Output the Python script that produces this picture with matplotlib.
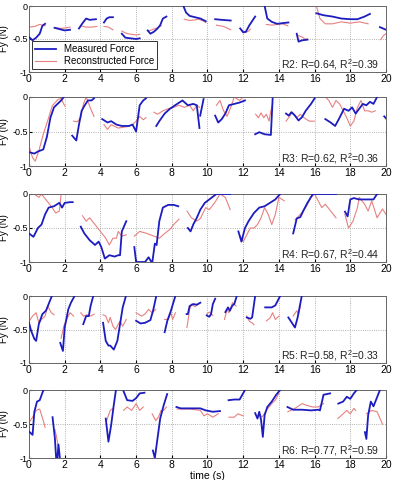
import matplotlib
matplotlib.use('Agg')
import matplotlib.pyplot as plt

plt.rcParams['font.family'] = ['Liberation Sans', 'DejaVu Sans']
plt.rcParams['mathtext.fontset'] = 'custom'
plt.rcParams['mathtext.rm'] = 'Liberation Sans'

# each segment: list of (time, force) points
r2_meas = [
    [(0, -0.47), (0.2, -0.52), (0.4, -0.48), (0.6, -0.42), (0.75, -0.30), (0.9, -0.27)],
    [(1.43, -0.33), (1.7, -0.35), (2.0, -0.37), (2.3, -0.36)],
    [(2.8, -0.34), (3.0, -0.26), (3.2, -0.19), (3.4, -0.21), (3.75, -0.20)],
    [(4.2, -0.25), (4.35, -0.19), (4.5, -0.17), (4.7, -0.17)],
    [(5.2, -0.42), (5.4, -0.48), (5.7, -0.49), (6.0, -0.50), (6.2, -0.49)],
    [(6.65, -0.37), (6.8, -0.42), (7.0, -0.39), (7.2, -0.34), (7.35, -0.29), (7.5, -0.19), (7.7, -0.16)],
    [(8.65, 0.0), (8.8, -0.10), (9.0, -0.15), (9.3, -0.17), (9.6, -0.19), (9.9, -0.23)],
    [(10.43, -0.20), (10.8, -0.21), (11.3, -0.22)],
    [(11.83, -0.34), (12.0, -0.40), (12.15, -0.39), (12.35, -0.29), (12.67, -0.16)],
    [(13.2, 0.0), (13.35, -0.19), (13.6, -0.24), (13.9, -0.27), (14.2, -0.26), (14.53, -0.25)],
    [(15.0, -0.42), (15.1, -0.54), (15.3, -0.52), (15.6, -0.51)],
    [(16.1, -0.11), (16.5, -0.14), (17.0, -0.16), (17.5, -0.19), (18.0, -0.20), (18.4, -0.20),
     (18.8, -0.16), (19.1, -0.12)],
    [(19.66, -0.32), (20.0, -0.36)],
]
r2_rec = [
    [(0, -0.32), (0.3, -0.31), (0.6, -0.28), (0.9, -0.30)],
    [(1.5, -0.33), (1.8, -0.34), (2.1, -0.33), (2.3, -0.32)],
    [(2.9, -0.30), (3.2, -0.32), (3.5, -0.32), (3.8, -0.31)],
    [(4.2, -0.31), (4.45, -0.32), (4.7, -0.36)],
    [(5.2, -0.38), (5.5, -0.42), (5.8, -0.43), (6.0, -0.44), (6.2, -0.43)],
    [(6.65, -0.38), (6.8, -0.37), (7.0, -0.35), (7.2, -0.33), (7.4, -0.30)],
    [(8.7, -0.20), (9.0, -0.22), (9.3, -0.21), (9.5, -0.20), (9.7, -0.22), (9.9, -0.25)],
    [(10.5, -0.29), (10.9, -0.31), (11.3, -0.36)],
    [(11.9, -0.36), (12.0, -0.38), (12.15, -0.40), (12.3, -0.38), (12.4, -0.35)],
    [(13.3, -0.28), (13.6, -0.29), (13.9, -0.28), (14.2, -0.27), (14.5, -0.30)],
    [(15.1, -0.45), (15.3, -0.47), (15.45, -0.50), (15.6, -0.50)],
    [(16.1, 0.0), (16.3, -0.19), (16.6, -0.27), (17.0, -0.27), (17.5, -0.24), (18.0, -0.26),
     (18.5, -0.24), (19.0, -0.27)],
    [(19.7, -0.51), (19.85, -0.45), (20.0, -0.42)],
]

r3_meas = [
    [(0, -0.80), (0.3, -0.82), (0.5, -0.79), (0.8, -0.76), (1.0, -0.58), (1.2, -0.30), (1.4, -0.15),
     (1.6, -0.10), (1.8, -0.05), (1.95, 0.0)],
    [(2.42, -0.56), (2.65, -0.63), (2.8, -0.40), (2.95, -0.20), (3.1, -0.13), (3.3, -0.05),
     (3.5, -0.05), (3.64, -0.02)],
    [(4.1, -0.32), (4.4, -0.37), (4.6, -0.35), (4.9, -0.40), (5.2, -0.42), (5.6, -0.42), (5.8, -0.40),
     (6.0, -0.50), (6.2, -0.12), (6.4, -0.05), (6.55, -0.02)],
    [(7.13, -0.42), (7.3, -0.35), (7.6, -0.24), (7.9, -0.17), (8.3, -0.10), (8.6, -0.05), (8.9, -0.12),
     (9.2, -0.10), (9.4, -0.12), (9.55, -0.45)],
    [(9.59, -0.27), (9.78, -0.03)],
    [(10.43, -0.27), (10.6, -0.37), (10.8, -0.32), (11.0, -0.24), (11.2, -0.12), (11.5, -0.10),
     (11.8, -0.08), (12.1, -0.05)],
    [(12.67, -0.54), (12.9, -0.51), (13.2, -0.54), (13.55, -0.55), (13.65, -0.02)],
    [(14.4, -0.24), (14.55, -0.27), (14.7, -0.22), (14.9, -0.27), (15.1, -0.34), (15.3, -0.29),
     (15.5, -0.20), (15.8, -0.10), (16.0, -0.02)],
    [(16.6, -0.32), (16.9, -0.37), (17.15, -0.42), (17.4, -0.30), (17.65, -0.17), (17.9, -0.20),
     (18.1, -0.15), (18.3, -0.24), (18.5, -0.17), (18.7, -0.10), (18.9, -0.12), (19.1, -0.07),
     (19.3, -0.10), (19.5, 0.0)],
    [(19.9, -0.28), (20.0, -0.31)],
]
r3_rec = [
    [(0, -0.71), (0.2, -0.88), (0.35, -0.93), (0.55, -0.78), (0.8, -0.54), (1.1, -0.30), (1.3, -0.13),
     (1.6, -0.04), (1.8, -0.02), (2.0, -0.13)],
    [(2.5, -0.35), (2.7, -0.36), (2.9, -0.30), (3.05, -0.10), (3.2, 0.0), (3.35, -0.10), (3.5, -0.20),
     (3.64, -0.28)],
    [(4.2, -0.40), (4.4, -0.47), (4.6, -0.40), (5.0, -0.45), (5.5, -0.43), (5.8, -0.40), (6.0, -0.35),
     (6.2, -0.28), (6.4, -0.33), (6.55, -0.30)],
    [(7.0, -0.22), (7.2, -0.25), (7.5, -0.20), (7.8, -0.17), (8.1, -0.15), (8.4, -0.12), (8.7, -0.15),
     (9.0, -0.12), (9.2, -0.20), (9.4, -0.12), (9.55, -0.15)],
    [(10.5, -0.12), (10.7, -0.05), (10.9, -0.20), (11.1, -0.28), (11.3, -0.15), (11.5, 0.0),
     (11.8, -0.05), (12.0, 0.0)],
    [(12.7, -0.25), (12.85, -0.30), (13.0, -0.23), (13.15, -0.30), (13.3, -0.25), (13.45, -0.35),
     (13.55, -0.20), (13.65, -0.10)],
    [(14.4, -0.35), (14.6, -0.28), (14.75, -0.22), (15.0, -0.30), (15.2, -0.25), (15.4, -0.30),
     (15.7, -0.35), (16.0, -0.35)],
    [(16.6, 0.0), (16.8, -0.05), (17.0, -0.15), (17.2, -0.05), (17.4, -0.10), (17.6, -0.20),
     (17.8, -0.30), (18.0, -0.42), (18.2, -0.35), (18.4, -0.15), (18.6, -0.05), (18.8, -0.20),
     (19.0, -0.20), (19.2, -0.22), (19.4, -0.20)],
]

r4_meas = [
    [(0, -0.58), (0.25, -0.63), (0.5, -0.50), (0.7, -0.45), (0.9, -0.30), (1.1, -0.20), (1.4, -0.18),
     (1.7, -0.13), (1.85, -0.20), (2.0, -0.13), (2.3, -0.12), (2.45, -0.12)],
    [(2.9, -0.48), (3.1, -0.58), (3.4, -0.68), (3.7, -0.75), (3.9, -0.70), (4.05, -0.78), (4.25, -0.95),
     (4.5, -0.90), (4.8, -0.92), (5.0, -0.90), (5.1, -0.90), (5.2, -0.55), (5.45, -0.40)],
    [(5.9, -0.78), (6.0, -1.0), (6.5, -1.0), (6.7, -0.93), (6.9, -1.02), (7.05, -0.73), (7.15, -0.75),
     (7.3, -0.40), (7.5, -0.20), (7.8, -0.16), (8.1, -0.16), (8.36, -0.18)],
    [(8.9, -0.50), (9.05, -0.55), (9.2, -0.45), (9.4, -0.35), (9.6, -0.23), (9.85, -0.13),
     (10.2, -0.06), (10.5, 0.0), (11.27, 0.0)],
    [(11.73, -0.55), (11.9, -0.70), (12.1, -0.50), (12.3, -0.40), (12.6, -0.28), (12.9, -0.20),
     (13.2, -0.18), (13.5, -0.13), (13.8, -0.08), (14.07, 0.0)],
    [(14.8, -0.58), (15.0, -0.36), (15.2, -0.34), (15.4, -0.23), (15.6, -0.13), (15.9, 0.0), (17.2, 0.0)],
    [(17.7, -0.26), (17.85, -0.33), (18.0, -0.08), (18.2, -0.06), (18.5, -0.08), (19.0, -0.08),
     (19.3, -0.08), (19.5, 0.0), (19.75, 0.03)],
]
r4_rec = [
    [(0, 0.0), (0.3, 0.0), (0.55, -0.05), (0.7, 0.0), (1.0, -0.10), (1.3, -0.20), (1.5, -0.28),
     (1.7, -0.25), (1.8, 0.0)],
    [(3.0, -0.32), (3.2, -0.40), (3.4, -0.35), (3.7, -0.45), (4.0, -0.55), (4.3, -0.65), (4.5, -0.75),
     (4.7, -0.65), (4.9, -0.65), (5.0, -0.55), (5.2, -0.62), (5.45, -0.60)],
    [(5.9, -0.62), (6.2, -0.55), (6.6, -0.58), (7.0, -0.62), (7.3, -0.65), (7.6, -0.58), (7.9, -0.52),
     (8.1, -0.45), (8.4, -0.37)],
    [(8.85, -0.25), (9.1, -0.35), (9.4, -0.40), (9.6, -0.36), (9.9, -0.20), (10.1, -0.23),
     (10.4, -0.13), (10.7, 0.0), (11.0, -0.05), (11.27, -0.23)],
    [(11.8, -0.60), (12.0, -0.70), (12.2, -0.60), (12.4, -0.50), (12.6, -0.50), (12.8, -0.45),
     (13.0, -0.35), (13.2, -0.20), (13.4, -0.30), (13.6, -0.45), (13.8, -0.30), (14.0, -0.05),
     (14.3, -0.10)],
    [(14.9, -0.38), (15.2, -0.30), (15.5, -0.20), (15.8, -0.05), (16.0, 0.0), (16.2, -0.10),
     (16.4, -0.20), (16.6, -0.15), (16.9, -0.25), (17.2, -0.35)],
    [(17.7, -0.30), (17.9, -0.50), (18.15, -0.40), (18.4, -0.20), (18.5, -0.05), (18.8, -0.15),
     (19.0, -0.25), (19.2, -0.10), (19.5, -0.35), (19.8, -0.22), (20.0, -0.30)],
]

r5_meas = [
    [(0, -0.40), (0.12, -0.52), (0.3, -0.64), (0.4, -0.67), (0.55, -0.42), (0.75, -0.27), (0.95, -0.22),
     (1.1, -0.12), (1.28, 0.0)],
    [(1.75, -0.70), (1.9, -0.82), (2.0, -0.47), (2.1, -0.34), (2.2, -0.20), (2.35, -0.10), (2.55, 0.0)],
    [(3.04, -0.42), (3.2, -0.30), (3.35, -0.30), (3.45, -0.15), (3.6, 0.0)],
    [(4.15, -0.40), (4.3, -0.67), (4.45, -0.74), (4.55, -0.74), (4.75, -0.80), (4.95, -0.67),
     (5.1, -0.42), (5.25, -0.17), (5.43, 0.0)],
    [(6.0, -0.37), (6.25, -0.41), (6.5, -0.40), (6.8, -0.36), (6.95, -0.22), (7.13, 0.0)],
    [(7.6, -0.54), (7.75, -0.37), (7.95, -0.22), (8.2, 0.0)],
    [(8.83, -0.27), (8.9, -0.27), (9.0, -0.15), (9.2, -0.12), (9.4, -0.13), (9.6, -0.10)],
    [(9.96, -0.29), (10.1, -0.31), (10.2, -0.27), (10.3, -0.12), (10.43, -0.04)],
    [(11.0, -0.24), (11.15, -0.17), (11.25, -0.22), (11.4, -0.14), (11.5, -0.12), (11.64, 0.0)],
    [(12.2, -0.32), (12.4, -0.34), (12.5, -0.32), (12.67, 0.0)],
    [(13.23, -0.17), (13.6, -0.17), (13.8, -0.14), (14.07, 0.0)],
    [(14.53, -0.32), (14.9, -0.47), (15.05, -0.32), (15.28, 0.0)],
]
r5_rec = [
    [(0, -0.38), (0.2, -0.30), (0.4, -0.25), (0.55, -0.40), (0.7, -0.35), (0.9, -0.30), (1.05, -0.15),
     (1.25, -0.25), (1.4, -0.28)],
    [(1.8, -0.63), (1.95, -0.45), (2.1, -0.35), (2.3, -0.25), (2.5, -0.30)],
    [(2.9, -0.25), (3.05, -0.30), (3.25, -0.28), (3.45, -0.30), (3.65, -0.27)],
    [(4.15, -0.28), (4.3, -0.30), (4.45, -0.40), (4.55, -0.32), (4.7, -0.45), (4.85, -0.50),
     (5.0, -0.42), (5.1, -0.38), (5.25, -0.45), (5.45, -0.35)],
    [(6.0, -0.25), (6.3, -0.30), (6.5, -0.27), (6.7, -0.20), (6.9, -0.25), (7.1, -0.20)],
    [(7.6, -0.35), (7.8, -0.35), (7.95, -0.25), (8.05, -0.35), (8.2, -0.25)],
    [(8.85, -0.47), (9.0, -0.20), (9.1, -0.12), (9.3, -0.16), (9.5, -0.12)],
    [(9.96, -0.27), (10.1, -0.24), (10.3, -0.29)],
    [(10.95, -0.35), (11.1, -0.20), (11.2, -0.25), (11.4, -0.10), (11.6, -0.15)],
    [(12.2, -0.30), (12.35, -0.38), (12.5, -0.40), (12.6, -0.43)],
    [(13.3, -0.37), (13.5, -0.33), (13.65, -0.25), (13.8, -0.35), (14.0, -0.30)],
    [(14.8, -0.30), (15.0, -0.22), (15.1, -0.27), (15.2, -0.15)],
]

r6_meas = [
    [(0, -0.61), (0.2, -0.66), (0.3, -0.32), (0.45, -0.17), (0.6, -0.15), (0.81, 0.0)],
    [(1.32, -0.40), (1.45, -0.71), (1.52, -1.0), (1.58, -1.05), (1.65, -0.80), (1.75, -1.05)],
    [(4.3, -0.42), (4.45, -0.76), (4.6, -0.52), (4.75, -0.22), (4.87, 0.0)],
    [(5.3, -0.02), (5.5, -0.15), (5.8, -0.16), (6.0, -0.12), (6.2, -0.05), (6.47, -0.04)],
    [(6.94, -0.89), (7.05, -1.0), (7.2, -0.71), (7.35, -0.42), (7.55, -0.22), (7.74, -0.06)],
    [(8.26, -0.25), (8.5, -0.27), (9.0, -0.27), (9.6, -0.27), (9.9, -0.30), (10.3, -0.32), (10.7, -0.31)],
    [(11.18, -0.15), (11.5, -0.14), (11.8, -0.14), (12.1, 0.0)],
    [(12.67, -0.34), (12.8, -0.42), (12.9, -0.32), (13.0, -0.44), (13.1, -0.69), (13.2, -0.37),
     (13.35, -0.25), (13.6, -0.17), (13.85, -0.07), (14.07, 0.0)],
    [(14.48, -0.25), (14.8, -0.29), (15.3, -0.29), (15.8, -0.30), (16.2, -0.29), (16.3, -0.30),
     (16.5, -0.07), (16.87, -0.05)],
    [(17.33, -0.20), (17.6, -0.17), (17.8, -0.10), (18.0, -0.13), (18.2, -0.05), (18.36, 0.0)],
    [(18.82, -0.62), (18.9, -0.72), (19.0, -0.37), (19.15, -0.17), (19.3, -0.24), (19.45, -0.14),
     (19.66, 0.0)],
]
r6_rec = [
    [(0, -0.48), (0.2, -0.40), (0.4, -0.30), (0.6, -0.28), (0.8, -0.45), (0.9, -0.55)],
    [(1.45, -0.58), (1.55, -0.70), (1.65, -0.85)],
    [(4.35, -0.45), (4.55, -0.30), (4.7, -0.27)],
    [(5.3, -0.30), (5.5, -0.25), (5.75, -0.30), (6.0, -0.20), (6.2, -0.30), (6.4, -0.25)],
    [(6.9, -0.35), (7.1, -0.45), (7.25, -0.40), (7.4, -0.30), (7.55, -0.30), (7.7, -0.25)],
    [(8.3, -0.28), (9.0, -0.28), (9.6, -0.30), (9.8, -0.38), (10.0, -0.35), (10.3, -0.40), (10.6, -0.35)],
    [(11.2, -0.40), (11.5, -0.40), (11.7, -0.35), (12.0, -0.38)],
    [(12.9, -0.35), (13.05, -0.40), (13.3, -0.30), (13.6, -0.20), (13.8, -0.15), (14.0, -0.05)],
    [(14.5, -0.32), (14.9, -0.27), (15.3, -0.20), (15.6, -0.23), (15.9, -0.25), (16.2, -0.25),
     (16.5, -0.20)],
    [(17.3, -0.42), (17.6, -0.35), (17.8, -0.30), (18.0, -0.35), (18.2, -0.27), (18.3, -0.30)],
    [(18.9, -0.35), (19.2, -0.30), (19.5, -0.32), (19.8, -0.50)],
]

panels = [
    (r2_meas, r2_rec, 'R2: R=0.64, R$^2$=0.39'),
    (r3_meas, r3_rec, 'R3: R=0.62, R$^2$=0.36'),
    (r4_meas, r4_rec, 'R4: R=0.67, R$^2$=0.44'),
    (r5_meas, r5_rec, 'R5: R=0.58, R$^2$=0.33'),
    (r6_meas, r6_rec, 'R6: R=0.77, R$^2$=0.59'),
]

# axes top/bottom in pixels (figure is 397x480)
rows = [(6, 72), (97, 166), (194, 262), (296, 363), (390, 458)]

blue = '#1c1cc0'
red = '#e88080'

fig = plt.figure(figsize=(3.97, 4.8), dpi=100)
for i, (meas, rec, label) in enumerate(panels):
    top, bot = rows[i]
    ax = fig.add_axes([29 / 397, 1 - bot / 480, 357 / 397, (bot - top) / 480])
    for k, seg in enumerate(rec):
        ax.plot([p[0] for p in seg], [p[1] for p in seg], color=red, lw=0.8,
                label='Reconstructed Force' if k == 0 else None, zorder=2)
    for k, seg in enumerate(meas):
        ax.plot([p[0] for p in seg], [p[1] for p in seg], color=blue, lw=1.3,
                label='Measured Force' if k == 0 else None, zorder=3)
    ax.set_xlim(0, 20)
    ax.set_ylim(-1, 0)
    ax.set_xticks(range(0, 21, 2))
    ax.set_yticks([-1, -0.5, 0])
    ax.set_yticklabels(['-1', '-0.5', '0'])
    ax.tick_params(labelsize=7.5, direction='in', length=2, pad=1.5)
    ax.tick_params(axis='y', labelsize=6.5, pad=1)
    ax.grid(True, linestyle=':', color='#999999', lw=0.6)
    for s in ax.spines.values():
        s.set_color('#666666')
        s.set_linewidth(0.7)
    ax.set_ylabel('Fy (N)', fontsize=7)
    ax.yaxis.set_label_coords(-0.055, 0.5)
    ax.text(14.1, -1.0, label, fontsize=7.5, va='bottom', ha='left', color='#222222')
    if i == 0:
        h, l = ax.get_legend_handles_labels()
        leg = ax.legend(h[::-1], l[::-1], loc='lower left', fontsize=7, frameon=True,
                        fancybox=False, handlelength=2.2, borderpad=0.3, labelspacing=0.2,
                        borderaxespad=0.3)
        leg.get_frame().set_edgecolor('black')
        leg.get_frame().set_linewidth(0.7)
    if i == len(panels) - 1:
        ax.set_xlabel('time (s)', fontsize=7.5, labelpad=1)

fig.savefig('out.png', dpi=100)
